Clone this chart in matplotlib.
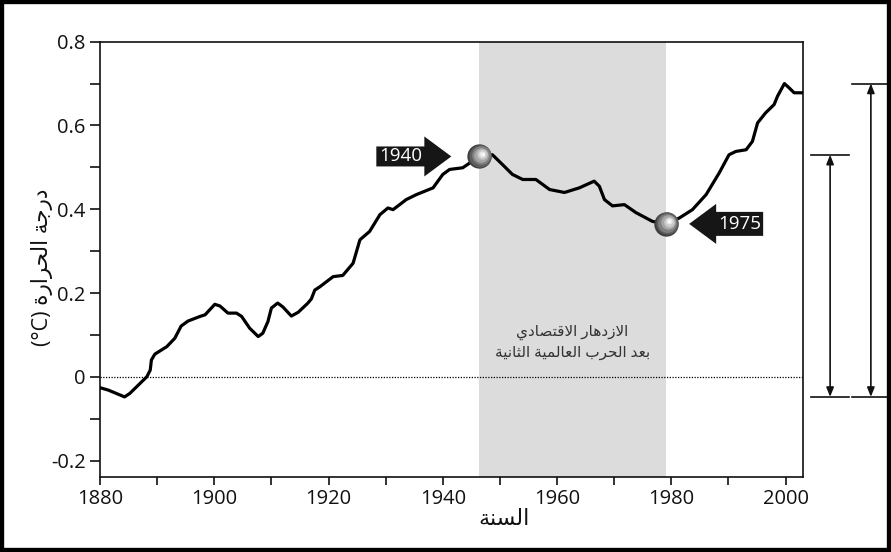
import numpy as np
import matplotlib
matplotlib.use("Agg")
import matplotlib.pyplot as plt
import matplotlib.transforms as mtransforms
from matplotlib.patches import Polygon, Rectangle

plt.rcParams['font.family'] = ['Open Sans', 'DejaVu Sans']

# global temperature anomaly (deg C)
years = [1880.0, 1881.5, 1884.3, 1885.2, 1886.7, 1888.2, 1888.8, 1889.0, 1889.6, 1891.7,
         1893.1, 1894.2, 1895.4, 1897.5, 1898.4, 1900.1, 1901.0, 1902.4, 1903.9, 1904.8,
         1906.2, 1907.7, 1908.5, 1909.4, 1910.0, 1911.1, 1912.0, 1913.5, 1914.7, 1916.4,
         1917.0, 1917.6, 1918.5, 1920.8, 1922.5, 1924.3, 1925.5, 1927.2, 1929.0, 1930.4,
         1931.3, 1933.6, 1935.4, 1938.3, 1940.0, 1941.2, 1943.5, 1946.4, 1948.7, 1950.5,
         1952.2, 1954.0, 1956.3, 1958.7, 1961.3, 1963.9, 1966.5, 1967.4, 1968.3, 1969.7,
         1971.8, 1973.8, 1976.7, 1979.1, 1981.4, 1983.7, 1986.1, 1988.4, 1990.1, 1991.3,
         1993.1, 1994.2, 1995.1, 1996.5, 1998.0, 1998.6, 1999.8, 2000.6, 2001.5, 2003.0]
temps = [-0.026, -0.032, -0.048, -0.040, -0.020, 0.000, 0.016, 0.040, 0.054, 0.072,
         0.092, 0.121, 0.133, 0.144, 0.148, 0.173, 0.169, 0.152, 0.152, 0.144,
         0.116, 0.096, 0.104, 0.132, 0.164, 0.176, 0.167, 0.145, 0.154, 0.176,
         0.186, 0.207, 0.215, 0.239, 0.242, 0.271, 0.327, 0.347, 0.387, 0.403,
         0.399, 0.423, 0.435, 0.451, 0.483, 0.495, 0.499, 0.526, 0.530, 0.506,
         0.483, 0.471, 0.471, 0.447, 0.440, 0.451, 0.467, 0.455, 0.423, 0.408,
         0.411, 0.392, 0.371, 0.365, 0.379, 0.399, 0.435, 0.487, 0.530, 0.538,
         0.542, 0.562, 0.606, 0.630, 0.650, 0.670, 0.700, 0.690, 0.678, 0.678]

boom_start, boom_end = 1946.3, 1979.1
marker_years = [1946.4, 1979.1]
marker_labels = ['1940', '1975']

xticks = [1880, 1900, 1920, 1940, 1960, 1980, 2000]
yticks = [-0.2, 0, 0.2, 0.4, 0.6, 0.8]
ytick_labels = ['-0.2', '0', '0.2', '0.4', '0.6', '0.8']

ylabel = 'درجة الحرارة'
xlabel = 'السنة'
boom_text = ['الازدهار الاقتصادي', 'بعد الحرب العالمية الثانية']

# matplotlib has no arabic shaping, so pick the presentation forms by hand
FORMS = {
    'ا': ('\uFE8D', '\uFE8E', None, None),
    'ب': ('\uFE8F', '\uFE90', '\uFE91', '\uFE92'),
    'ة': ('\uFE93', '\uFE94', None, None),
    'ت': ('\uFE95', '\uFE96', '\uFE97', '\uFE98'),
    'ث': ('\uFE99', '\uFE9A', '\uFE9B', '\uFE9C'),
    'ج': ('\uFE9D', '\uFE9E', '\uFE9F', '\uFEA0'),
    'ح': ('\uFEA1', '\uFEA2', '\uFEA3', '\uFEA4'),
    'د': ('\uFEA9', '\uFEAA', None, None),
    'ر': ('\uFEAD', '\uFEAE', None, None),
    'ز': ('\uFEAF', '\uFEB0', None, None),
    'س': ('\uFEB1', '\uFEB2', '\uFEB3', '\uFEB4'),
    'ص': ('\uFEB9', '\uFEBA', '\uFEBB', '\uFEBC'),
    'ع': ('\uFEC9', '\uFECA', '\uFECB', '\uFECC'),
    'ق': ('\uFED5', '\uFED6', '\uFED7', '\uFED8'),
    'ل': ('\uFEDD', '\uFEDE', '\uFEDF', '\uFEE0'),
    'م': ('\uFEE1', '\uFEE2', '\uFEE3', '\uFEE4'),
    'ن': ('\uFEE5', '\uFEE6', '\uFEE7', '\uFEE8'),
    'ه': ('\uFEE9', '\uFEEA', '\uFEEB', '\uFEEC'),
    'ي': ('\uFEF1', '\uFEF2', '\uFEF3', '\uFEF4'),
}


def shape(text):
    out = []
    prev_joins = False
    i = 0
    while i < len(text):
        ch = text[i]
        nxt = text[i + 1] if i + 1 < len(text) else ''
        if ch not in FORMS:
            out.append(ch)
            prev_joins = False
            i += 1
            continue
        if ch == 'ل' and nxt == 'ا':
            out.append('\uFEFC' if prev_joins else '\uFEFB')
            prev_joins = False
            i += 2
            continue
        isol, fin, ini, med = FORMS[ch]
        joins_next = ini is not None and nxt in FORMS
        if prev_joins and joins_next:
            out.append(med)
        elif prev_joins:
            out.append(fin)
        elif joins_next:
            out.append(ini)
        else:
            out.append(isol)
        prev_joins = joins_next
        i += 1
    return ''.join(out)[::-1]


fig = plt.figure(figsize=(8.91, 5.52), dpi=100)
ax = fig.add_axes([0.1122, 0.1353, 0.7887, 0.7892])

ax.axvspan(boom_start, boom_end, color='#dcdcdc', lw=0, zorder=0)
ax.axhline(0, color='black', lw=0.9, ls=(0, (1, 1.2)), zorder=1)
ax.plot(years, temps, color='black', lw=2.3, zorder=3,
        solid_capstyle='round', solid_joinstyle='round')

ax.set_xlim(1880, 2003)
ax.set_ylim(-0.24, 0.8)
ax.set_xticks(xticks)
ax.set_xticks(np.arange(1890, 2003, 20), minor=True)
ax.set_yticks(yticks)
ax.set_yticklabels(ytick_labels)
ax.set_yticks(np.arange(-0.1, 0.8, 0.2), minor=True)
ax.tick_params(axis='both', which='both', direction='out', width=1.2, colors='#111111',
               labelsize=14.5, labelcolor='#111111')
ax.tick_params(axis='y', which='both', length=7.2, pad=3)
ax.tick_params(axis='x', which='both', length=5.5, pad=3)
for sp in ax.spines.values():
    sp.set_linewidth(1.2)
    sp.set_color('#111111')

ax.set_xlabel(shape(xlabel), fontsize=16, va='center', color='#111111')
ax.xaxis.set_label_coords(0.575, -0.096)
ax.set_ylabel('(°C) ' + shape(ylabel), fontsize=15.5, va='center', color='#111111')
ax.yaxis.set_label_coords(-0.083, 0.483)

mid = (boom_start + boom_end) / 2
ax.text(mid, 0.107, shape(boom_text[0]), ha='center', va='center', fontsize=11, color='#333333')
ax.text(mid, 0.057, shape(boom_text[1]), ha='center', va='center', fontsize=11, color='#333333')

# shiny ball markers with block arrows
ball = [(17.5, '#3f3f3f', 0, 0), (16, '#5e5e5e', 0.5, 0.4), (13.5, '#808080', 1.2, 1.0),
        (10.5, '#a6a6a6', 1.9, 1.6), (7.5, '#c9c9c9', 2.5, 2.1), (4.5, '#e8e8e8', 3, 2.5),
        (2, '#ffffff', 3.3, 2.8)]
arrow_right = [(-28, 0), (-55, 20), (-55, 10), (-103, 10), (-103, -10), (-55, -10), (-55, -20)]
arrow_left = [(23, 0), (50, 20), (50, 12), (97, 12), (97, -12), (50, -12), (50, -20)]
for yr, lab, verts, tx in zip(marker_years, marker_labels, [arrow_right, arrow_left], [-79, 73.5]):
    t = np.interp(yr, years, temps)
    for ms, c, dx, dy in ball:
        tr = mtransforms.offset_copy(ax.transData, fig, x=dx, y=dy, units='dots')
        ax.plot([yr], [t], 'o', ms=ms, color=c, mec='none', transform=tr, zorder=5)
    tr = fig.dpi_scale_trans + mtransforms.ScaledTranslation(yr, t, ax.transData)
    pts = np.array(verts) / 100.0
    ax.add_patch(Polygon(pts, closed=True, transform=tr, facecolor='#161616',
                         edgecolor='none', zorder=4, clip_on=False))
    ax.text(yr, t, lab, transform=mtransforms.offset_copy(ax.transData, fig, x=tx, y=0, units='dots'),
            ha='center', va='center', color='white', fontsize=13.5, zorder=6)

# range arrows outside the plot
low = min(temps)
peak40 = max(t for y, t in zip(years, temps) if y < 1960)
high = max(temps)
blend = mtransforms.blended_transform_factory(ax.transAxes, ax.transData)
for xa, x0, x1, top in [(1.039, 1.012, 1.066, peak40), (1.097, 1.070, 1.126, high)]:
    ax.annotate('', xy=(xa, top), xytext=(xa, low), xycoords=blend, textcoords=blend,
                arrowprops=dict(arrowstyle='<|-|>,head_length=0.55,head_width=0.22',
                                color='#111111', lw=1.2, shrinkA=0, shrinkB=0,
                                mutation_scale=10), annotation_clip=False)
    for yv in (low, top):
        ax.plot([x0, x1], [yv, yv], color='#111111', lw=1.2, transform=blend, clip_on=False)

fig.add_artist(Rectangle((0, 0), 1, 1, transform=fig.transFigure, fill=False,
                         edgecolor='black', lw=6))

fig.savefig('out.png', dpi=100)
